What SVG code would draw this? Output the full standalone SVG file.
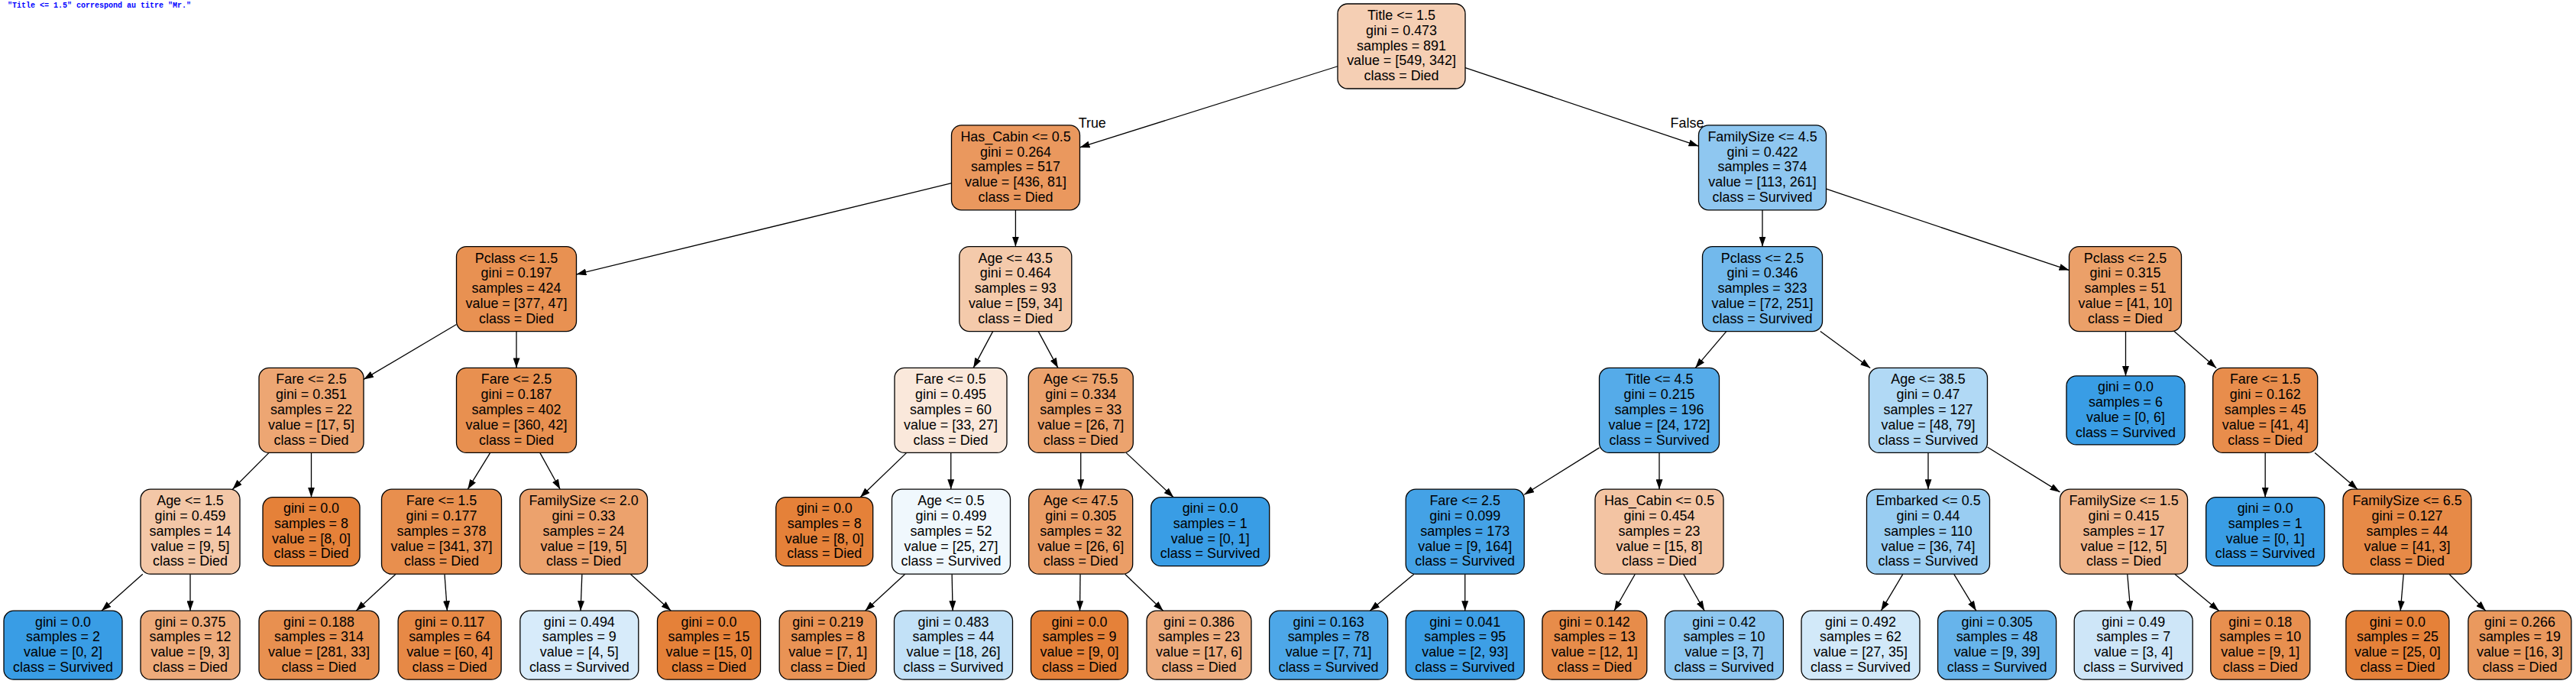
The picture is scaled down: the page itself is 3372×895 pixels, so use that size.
<svg xmlns="http://www.w3.org/2000/svg" width="3372" height="895" viewBox="0 0 3372 895">
<style>
.n{stroke:#000;stroke-width:1.3}
.t{font-family:"Liberation Sans",Arial,Helvetica,sans-serif;font-size:17.9px;text-anchor:middle;fill:#000}
.l{font-family:"Liberation Sans",Arial,Helvetica,sans-serif;font-size:17.9px;fill:#000}
.e{stroke:#000;stroke-width:1.3;fill:none;marker-end:url(#ah)}
.note{font-family:"Liberation Mono","Courier New",monospace;font-size:10px;font-weight:bold;fill:#0000ff}
</style>
<defs>
<marker id="ah" markerUnits="userSpaceOnUse" markerWidth="13" markerHeight="9" viewBox="0 0 13 9" refX="13" refY="4.5" orient="auto"><path d="M0,0L13,4.5L0,9z" fill="#000"/></marker>
</defs>
<rect width="3372" height="895" fill="#fff"/>
<text class="note" x="10" y="9.5">"Title &lt;= 1.5" correspond au titre "Mr."</text>

<g id="edges">
<line class="e" x1="1751" y1="86.75" x2="1413.5" y2="192.9"/>
<line class="e" x1="1918" y1="88.56" x2="2223.5" y2="191.24"/>
<line class="e" x1="1245.5" y1="239.71" x2="754.5" y2="359.02"/>
<line class="e" x1="1329.4" y1="274.8" x2="1329.4" y2="322.6"/>
<line class="e" x1="2307" y1="274.8" x2="2307" y2="322.6"/>
<line class="e" x1="2390.5" y1="247.22" x2="2708.5" y2="353.53"/>
<line class="e" x1="597.5" y1="424.53" x2="476" y2="496.39"/>
<line class="e" x1="676" y1="433.6" x2="676" y2="481.4"/>
<line class="e" x1="1299.66" y1="433.6" x2="1274.14" y2="481.4"/>
<line class="e" x1="1359.18" y1="433.6" x2="1384.92" y2="481.4"/>
<line class="e" x1="2259.82" y1="433.6" x2="2219.18" y2="481.4"/>
<line class="e" x1="2382.84" y1="433.6" x2="2448.16" y2="481.4"/>
<line class="e" x1="2782.5" y1="433.6" x2="2782.5" y2="491.9"/>
<line class="e" x1="2846.03" y1="433.6" x2="2901.17" y2="481.4"/>
<line class="e" x1="352.1" y1="592.4" x2="304.4" y2="640.2"/>
<line class="e" x1="407.5" y1="592.4" x2="407.5" y2="650.7"/>
<line class="e" x1="641.75" y1="592.4" x2="612.25" y2="640.2"/>
<line class="e" x1="706.76" y1="592.4" x2="733.24" y2="640.2"/>
<line class="e" x1="1186.73" y1="592.4" x2="1126.05" y2="650.7"/>
<line class="e" x1="1244.75" y1="592.4" x2="1244.75" y2="640.2"/>
<line class="e" x1="1414.75" y1="592.4" x2="1414.75" y2="640.2"/>
<line class="e" x1="1474" y1="592.4" x2="1536.19" y2="650.7"/>
<line class="e" x1="2093.5" y1="585.92" x2="1995.2" y2="647.3"/>
<line class="e" x1="2172" y1="592.4" x2="2172" y2="640.2"/>
<line class="e" x1="2524" y1="592.4" x2="2524" y2="640.2"/>
<line class="e" x1="2601.5" y1="584.97" x2="2696.5" y2="643.9"/>
<line class="e" x1="2965.2" y1="592.4" x2="2965.2" y2="650.7"/>
<line class="e" x1="3030.14" y1="592.4" x2="3086.06" y2="640.2"/>
<line class="e" x1="186.78" y1="751.2" x2="132.95" y2="799.2"/>
<line class="e" x1="249" y1="751.2" x2="249" y2="799.2"/>
<line class="e" x1="518.02" y1="751.2" x2="466.13" y2="799.2"/>
<line class="e" x1="581.96" y1="751.2" x2="585.39" y2="799.2"/>
<line class="e" x1="761.87" y1="751.2" x2="760.03" y2="799.2"/>
<line class="e" x1="825.29" y1="751.2" x2="878.31" y2="799.2"/>
<line class="e" x1="1184.72" y1="751.2" x2="1132.57" y2="799.2"/>
<line class="e" x1="1246.12" y1="751.2" x2="1247.09" y2="799.2"/>
<line class="e" x1="1414.06" y1="751.2" x2="1413.52" y2="799.2"/>
<line class="e" x1="1472.55" y1="751.2" x2="1522.6" y2="799.2"/>
<line class="e" x1="1850.96" y1="751.2" x2="1793.22" y2="799.2"/>
<line class="e" x1="1917.7" y1="751.2" x2="1917.7" y2="799.2"/>
<line class="e" x1="2140.35" y1="751.2" x2="2112.96" y2="799.2"/>
<line class="e" x1="2203.73" y1="751.2" x2="2231.18" y2="799.2"/>
<line class="e" x1="2490.93" y1="751.2" x2="2462.32" y2="799.2"/>
<line class="e" x1="2557.67" y1="751.2" x2="2586.8" y2="799.2"/>
<line class="e" x1="2784.75" y1="751.2" x2="2788.85" y2="799.2"/>
<line class="e" x1="2846.82" y1="751.2" x2="2904.62" y2="799.2"/>
<line class="e" x1="3146.29" y1="751.2" x2="3142.22" y2="799.2"/>
<line class="e" x1="3206.08" y1="751.2" x2="3253.74" y2="799.2"/>
<text class="l" x="1411.7" y="166.5">True</text>
<text class="l" x="2186.6" y="166.5">False</text>
</g>

<g id="n0"><rect class="n" x="1751" y="5" width="167" height="111" rx="13" fill="#f5cfb4"/>
<text class="t" y="25.9"><tspan x="1834.5">Title &lt;= 1.5</tspan><tspan x="1834.5" dy="19.8">gini = 0.473</tspan><tspan x="1834.5" dy="19.8">samples = 891</tspan><tspan x="1834.5" dy="19.8">value = [549, 342]</tspan><tspan x="1834.5" dy="19.8">class = Died</tspan></text></g>

<g id="n1"><rect class="n" x="1245.5" y="163.8" width="168" height="111" rx="13" fill="#ea985e"/>
<text class="t" y="184.7"><tspan x="1329.5">Has_Cabin &lt;= 0.5</tspan><tspan x="1329.5" dy="19.8">gini = 0.264</tspan><tspan x="1329.5" dy="19.8">samples = 517</tspan><tspan x="1329.5" dy="19.8">value = [436, 81]</tspan><tspan x="1329.5" dy="19.8">class = Died</tspan></text></g>

<g id="n2"><rect class="n" x="2223.5" y="163.8" width="167" height="111" rx="13" fill="#8fc7f0"/>
<text class="t" y="184.7"><tspan x="2307">FamilySize &lt;= 4.5</tspan><tspan x="2307" dy="19.8">gini = 0.422</tspan><tspan x="2307" dy="19.8">samples = 374</tspan><tspan x="2307" dy="19.8">value = [113, 261]</tspan><tspan x="2307" dy="19.8">class = Survived</tspan></text></g>

<g id="n3"><rect class="n" x="597.5" y="322.6" width="157" height="111" rx="13" fill="#e89152"/>
<text class="t" y="343.5"><tspan x="676">Pclass &lt;= 1.5</tspan><tspan x="676" dy="19.8">gini = 0.197</tspan><tspan x="676" dy="19.8">samples = 424</tspan><tspan x="676" dy="19.8">value = [377, 47]</tspan><tspan x="676" dy="19.8">class = Died</tspan></text></g>

<g id="n4"><rect class="n" x="1255.8" y="322.6" width="147" height="111" rx="13" fill="#f4caab"/>
<text class="t" y="343.5"><tspan x="1329.3">Age &lt;= 43.5</tspan><tspan x="1329.3" dy="19.8">gini = 0.464</tspan><tspan x="1329.3" dy="19.8">samples = 93</tspan><tspan x="1329.3" dy="19.8">value = [59, 34]</tspan><tspan x="1329.3" dy="19.8">class = Died</tspan></text></g>

<g id="n5"><rect class="n" x="2228.5" y="322.6" width="157" height="111" rx="13" fill="#72b9ec"/>
<text class="t" y="343.5"><tspan x="2307">Pclass &lt;= 2.5</tspan><tspan x="2307" dy="19.8">gini = 0.346</tspan><tspan x="2307" dy="19.8">samples = 323</tspan><tspan x="2307" dy="19.8">value = [72, 251]</tspan><tspan x="2307" dy="19.8">class = Survived</tspan></text></g>

<g id="n6"><rect class="n" x="2708.5" y="322.6" width="147" height="111" rx="13" fill="#eba069"/>
<text class="t" y="343.5"><tspan x="2782">Pclass &lt;= 2.5</tspan><tspan x="2782" dy="19.8">gini = 0.315</tspan><tspan x="2782" dy="19.8">samples = 51</tspan><tspan x="2782" dy="19.8">value = [41, 10]</tspan><tspan x="2782" dy="19.8">class = Died</tspan></text></g>

<g id="n7"><rect class="n" x="339" y="481.4" width="137" height="111" rx="13" fill="#eda673"/>
<text class="t" y="502.3"><tspan x="407.5">Fare &lt;= 2.5</tspan><tspan x="407.5" dy="19.8">gini = 0.351</tspan><tspan x="407.5" dy="19.8">samples = 22</tspan><tspan x="407.5" dy="19.8">value = [17, 5]</tspan><tspan x="407.5" dy="19.8">class = Died</tspan></text></g>

<g id="n8"><rect class="n" x="597.5" y="481.4" width="157" height="111" rx="13" fill="#e89050"/>
<text class="t" y="502.3"><tspan x="676">Fare &lt;= 2.5</tspan><tspan x="676" dy="19.8">gini = 0.187</tspan><tspan x="676" dy="19.8">samples = 402</tspan><tspan x="676" dy="19.8">value = [360, 42]</tspan><tspan x="676" dy="19.8">class = Died</tspan></text></g>

<g id="n9"><rect class="n" x="1171" y="481.4" width="147" height="111" rx="13" fill="#fae8db"/>
<text class="t" y="502.3"><tspan x="1244.5">Fare &lt;= 0.5</tspan><tspan x="1244.5" dy="19.8">gini = 0.495</tspan><tspan x="1244.5" dy="19.8">samples = 60</tspan><tspan x="1244.5" dy="19.8">value = [33, 27]</tspan><tspan x="1244.5" dy="19.8">class = Died</tspan></text></g>

<g id="n10"><rect class="n" x="1346.3" y="481.4" width="137" height="111" rx="13" fill="#eca36e"/>
<text class="t" y="502.3"><tspan x="1414.8">Age &lt;= 75.5</tspan><tspan x="1414.8" dy="19.8">gini = 0.334</tspan><tspan x="1414.8" dy="19.8">samples = 33</tspan><tspan x="1414.8" dy="19.8">value = [26, 7]</tspan><tspan x="1414.8" dy="19.8">class = Died</tspan></text></g>

<g id="n11"><rect class="n" x="2093.5" y="481.4" width="157" height="111" rx="13" fill="#55abe9"/>
<text class="t" y="502.3"><tspan x="2172">Title &lt;= 4.5</tspan><tspan x="2172" dy="19.8">gini = 0.215</tspan><tspan x="2172" dy="19.8">samples = 196</tspan><tspan x="2172" dy="19.8">value = [24, 172]</tspan><tspan x="2172" dy="19.8">class = Survived</tspan></text></g>

<g id="n12"><rect class="n" x="2446.5" y="481.4" width="155" height="111" rx="13" fill="#b1d9f5"/>
<text class="t" y="502.3"><tspan x="2524">Age &lt;= 38.5</tspan><tspan x="2524" dy="19.8">gini = 0.47</tspan><tspan x="2524" dy="19.8">samples = 127</tspan><tspan x="2524" dy="19.8">value = [48, 79]</tspan><tspan x="2524" dy="19.8">class = Survived</tspan></text></g>

<g id="n13"><rect class="n" x="2705" y="491.9" width="155" height="90" rx="13" fill="#399de5"/>
<text class="t" y="512.2"><tspan x="2782.5">gini = 0.0</tspan><tspan x="2782.5" dy="19.8">samples = 6</tspan><tspan x="2782.5" dy="19.8">value = [0, 6]</tspan><tspan x="2782.5" dy="19.8">class = Survived</tspan></text></g>

<g id="n14"><rect class="n" x="2896.7" y="481.4" width="137" height="111" rx="13" fill="#e88d4c"/>
<text class="t" y="502.3"><tspan x="2965.2">Fare &lt;= 1.5</tspan><tspan x="2965.2" dy="19.8">gini = 0.162</tspan><tspan x="2965.2" dy="19.8">samples = 45</tspan><tspan x="2965.2" dy="19.8">value = [41, 4]</tspan><tspan x="2965.2" dy="19.8">class = Died</tspan></text></g>

<g id="n15"><rect class="n" x="184" y="640.2" width="130" height="111" rx="13" fill="#f3c7a7"/>
<text class="t" y="661.1"><tspan x="249">Age &lt;= 1.5</tspan><tspan x="249" dy="19.8">gini = 0.459</tspan><tspan x="249" dy="19.8">samples = 14</tspan><tspan x="249" dy="19.8">value = [9, 5]</tspan><tspan x="249" dy="19.8">class = Died</tspan></text></g>

<g id="n16"><rect class="n" x="344" y="650.7" width="127" height="90" rx="13" fill="#e58139"/>
<text class="t" y="671"><tspan x="407.5">gini = 0.0</tspan><tspan x="407.5" dy="19.8">samples = 8</tspan><tspan x="407.5" dy="19.8">value = [8, 0]</tspan><tspan x="407.5" dy="19.8">class = Died</tspan></text></g>

<g id="n17"><rect class="n" x="499.5" y="640.2" width="157" height="111" rx="13" fill="#e88f4e"/>
<text class="t" y="661.1"><tspan x="578">Fare &lt;= 1.5</tspan><tspan x="578" dy="19.8">gini = 0.177</tspan><tspan x="578" dy="19.8">samples = 378</tspan><tspan x="578" dy="19.8">value = [341, 37]</tspan><tspan x="578" dy="19.8">class = Died</tspan></text></g>

<g id="n18"><rect class="n" x="680.5" y="640.2" width="167" height="111" rx="13" fill="#eca26d"/>
<text class="t" y="661.1"><tspan x="764">FamilySize &lt;= 2.0</tspan><tspan x="764" dy="19.8">gini = 0.33</tspan><tspan x="764" dy="19.8">samples = 24</tspan><tspan x="764" dy="19.8">value = [19, 5]</tspan><tspan x="764" dy="19.8">class = Died</tspan></text></g>

<g id="n19"><rect class="n" x="1015.7" y="650.7" width="127" height="90" rx="13" fill="#e58139"/>
<text class="t" y="671"><tspan x="1079.2">gini = 0.0</tspan><tspan x="1079.2" dy="19.8">samples = 8</tspan><tspan x="1079.2" dy="19.8">value = [8, 0]</tspan><tspan x="1079.2" dy="19.8">class = Died</tspan></text></g>

<g id="n20"><rect class="n" x="1167.5" y="640.2" width="155" height="111" rx="13" fill="#f0f8fd"/>
<text class="t" y="661.1"><tspan x="1245">Age &lt;= 0.5</tspan><tspan x="1245" dy="19.8">gini = 0.499</tspan><tspan x="1245" dy="19.8">samples = 52</tspan><tspan x="1245" dy="19.8">value = [25, 27]</tspan><tspan x="1245" dy="19.8">class = Survived</tspan></text></g>

<g id="n21"><rect class="n" x="1346.7" y="640.2" width="136" height="111" rx="13" fill="#eb9e67"/>
<text class="t" y="661.1"><tspan x="1414.7">Age &lt;= 47.5</tspan><tspan x="1414.7" dy="19.8">gini = 0.305</tspan><tspan x="1414.7" dy="19.8">samples = 32</tspan><tspan x="1414.7" dy="19.8">value = [26, 6]</tspan><tspan x="1414.7" dy="19.8">class = Died</tspan></text></g>

<g id="n22"><rect class="n" x="1506.7" y="650.7" width="155" height="90" rx="13" fill="#399de5"/>
<text class="t" y="671"><tspan x="1584.2">gini = 0.0</tspan><tspan x="1584.2" dy="19.8">samples = 1</tspan><tspan x="1584.2" dy="19.8">value = [0, 1]</tspan><tspan x="1584.2" dy="19.8">class = Survived</tspan></text></g>

<g id="n23"><rect class="n" x="1840.2" y="640.2" width="155" height="111" rx="13" fill="#44a2e6"/>
<text class="t" y="661.1"><tspan x="1917.7">Fare &lt;= 2.5</tspan><tspan x="1917.7" dy="19.8">gini = 0.099</tspan><tspan x="1917.7" dy="19.8">samples = 173</tspan><tspan x="1917.7" dy="19.8">value = [9, 164]</tspan><tspan x="1917.7" dy="19.8">class = Survived</tspan></text></g>

<g id="n24"><rect class="n" x="2088" y="640.2" width="168" height="111" rx="13" fill="#f3c4a3"/>
<text class="t" y="661.1"><tspan x="2172">Has_Cabin &lt;= 0.5</tspan><tspan x="2172" dy="19.8">gini = 0.454</tspan><tspan x="2172" dy="19.8">samples = 23</tspan><tspan x="2172" dy="19.8">value = [15, 8]</tspan><tspan x="2172" dy="19.8">class = Died</tspan></text></g>

<g id="n25"><rect class="n" x="2443.5" y="640.2" width="161" height="111" rx="13" fill="#99cdf2"/>
<text class="t" y="661.1"><tspan x="2524">Embarked &lt;= 0.5</tspan><tspan x="2524" dy="19.8">gini = 0.44</tspan><tspan x="2524" dy="19.8">samples = 110</tspan><tspan x="2524" dy="19.8">value = [36, 74]</tspan><tspan x="2524" dy="19.8">class = Survived</tspan></text></g>

<g id="n26"><rect class="n" x="2696.5" y="640.2" width="167" height="111" rx="13" fill="#f0b68c"/>
<text class="t" y="661.1"><tspan x="2780">FamilySize &lt;= 1.5</tspan><tspan x="2780" dy="19.8">gini = 0.415</tspan><tspan x="2780" dy="19.8">samples = 17</tspan><tspan x="2780" dy="19.8">value = [12, 5]</tspan><tspan x="2780" dy="19.8">class = Died</tspan></text></g>

<g id="n27"><rect class="n" x="2887.7" y="650.7" width="155" height="90" rx="13" fill="#399de5"/>
<text class="t" y="671"><tspan x="2965.2">gini = 0.0</tspan><tspan x="2965.2" dy="19.8">samples = 1</tspan><tspan x="2965.2" dy="19.8">value = [0, 1]</tspan><tspan x="2965.2" dy="19.8">class = Survived</tspan></text></g>

<g id="n28"><rect class="n" x="3067" y="640.2" width="168" height="111" rx="13" fill="#e78a47"/>
<text class="t" y="661.1"><tspan x="3151">FamilySize &lt;= 6.5</tspan><tspan x="3151" dy="19.8">gini = 0.127</tspan><tspan x="3151" dy="19.8">samples = 44</tspan><tspan x="3151" dy="19.8">value = [41, 3]</tspan><tspan x="3151" dy="19.8">class = Died</tspan></text></g>

<g id="n29"><rect class="n" x="5" y="799.2" width="155" height="90" rx="13" fill="#399de5"/>
<text class="t" y="819.5"><tspan x="82.5">gini = 0.0</tspan><tspan x="82.5" dy="19.8">samples = 2</tspan><tspan x="82.5" dy="19.8">value = [0, 2]</tspan><tspan x="82.5" dy="19.8">class = Survived</tspan></text></g>

<g id="n30"><rect class="n" x="184" y="799.2" width="130" height="90" rx="13" fill="#eeab7b"/>
<text class="t" y="819.5"><tspan x="249">gini = 0.375</tspan><tspan x="249" dy="19.8">samples = 12</tspan><tspan x="249" dy="19.8">value = [9, 3]</tspan><tspan x="249" dy="19.8">class = Died</tspan></text></g>

<g id="n31"><rect class="n" x="339" y="799.2" width="157" height="90" rx="13" fill="#e89050"/>
<text class="t" y="819.5"><tspan x="417.5">gini = 0.188</tspan><tspan x="417.5" dy="19.8">samples = 314</tspan><tspan x="417.5" dy="19.8">value = [281, 33]</tspan><tspan x="417.5" dy="19.8">class = Died</tspan></text></g>

<g id="n32"><rect class="n" x="521.1" y="799.2" width="135" height="90" rx="13" fill="#e78946"/>
<text class="t" y="819.5"><tspan x="588.6">gini = 0.117</tspan><tspan x="588.6" dy="19.8">samples = 64</tspan><tspan x="588.6" dy="19.8">value = [60, 4]</tspan><tspan x="588.6" dy="19.8">class = Died</tspan></text></g>

<g id="n33"><rect class="n" x="680.8" y="799.2" width="155" height="90" rx="13" fill="#d7ebfa"/>
<text class="t" y="819.5"><tspan x="758.3">gini = 0.494</tspan><tspan x="758.3" dy="19.8">samples = 9</tspan><tspan x="758.3" dy="19.8">value = [4, 5]</tspan><tspan x="758.3" dy="19.8">class = Survived</tspan></text></g>

<g id="n34"><rect class="n" x="860.5" y="799.2" width="135" height="90" rx="13" fill="#e58139"/>
<text class="t" y="819.5"><tspan x="928">gini = 0.0</tspan><tspan x="928" dy="19.8">samples = 15</tspan><tspan x="928" dy="19.8">value = [15, 0]</tspan><tspan x="928" dy="19.8">class = Died</tspan></text></g>

<g id="n35"><rect class="n" x="1020.2" y="799.2" width="127" height="90" rx="13" fill="#e99355"/>
<text class="t" y="819.5"><tspan x="1083.7">gini = 0.219</tspan><tspan x="1083.7" dy="19.8">samples = 8</tspan><tspan x="1083.7" dy="19.8">value = [7, 1]</tspan><tspan x="1083.7" dy="19.8">class = Died</tspan></text></g>

<g id="n36"><rect class="n" x="1170.5" y="799.2" width="155" height="90" rx="13" fill="#c2e1f7"/>
<text class="t" y="819.5"><tspan x="1248">gini = 0.483</tspan><tspan x="1248" dy="19.8">samples = 44</tspan><tspan x="1248" dy="19.8">value = [18, 26]</tspan><tspan x="1248" dy="19.8">class = Survived</tspan></text></g>

<g id="n37"><rect class="n" x="1349.5" y="799.2" width="127" height="90" rx="13" fill="#e58139"/>
<text class="t" y="819.5"><tspan x="1413">gini = 0.0</tspan><tspan x="1413" dy="19.8">samples = 9</tspan><tspan x="1413" dy="19.8">value = [9, 0]</tspan><tspan x="1413" dy="19.8">class = Died</tspan></text></g>

<g id="n38"><rect class="n" x="1501" y="799.2" width="137" height="90" rx="13" fill="#eead7f"/>
<text class="t" y="819.5"><tspan x="1569.5">gini = 0.386</tspan><tspan x="1569.5" dy="19.8">samples = 23</tspan><tspan x="1569.5" dy="19.8">value = [17, 6]</tspan><tspan x="1569.5" dy="19.8">class = Died</tspan></text></g>

<g id="n39"><rect class="n" x="1661.6" y="799.2" width="155" height="90" rx="13" fill="#4da7e8"/>
<text class="t" y="819.5"><tspan x="1739.1">gini = 0.163</tspan><tspan x="1739.1" dy="19.8">samples = 78</tspan><tspan x="1739.1" dy="19.8">value = [7, 71]</tspan><tspan x="1739.1" dy="19.8">class = Survived</tspan></text></g>

<g id="n40"><rect class="n" x="1840.2" y="799.2" width="155" height="90" rx="13" fill="#3d9fe6"/>
<text class="t" y="819.5"><tspan x="1917.7">gini = 0.041</tspan><tspan x="1917.7" dy="19.8">samples = 95</tspan><tspan x="1917.7" dy="19.8">value = [2, 93]</tspan><tspan x="1917.7" dy="19.8">class = Survived</tspan></text></g>

<g id="n41"><rect class="n" x="2018.8" y="799.2" width="137" height="90" rx="13" fill="#e78c4a"/>
<text class="t" y="819.5"><tspan x="2087.3">gini = 0.142</tspan><tspan x="2087.3" dy="19.8">samples = 13</tspan><tspan x="2087.3" dy="19.8">value = [12, 1]</tspan><tspan x="2087.3" dy="19.8">class = Died</tspan></text></g>

<g id="n42"><rect class="n" x="2179.4" y="799.2" width="155" height="90" rx="13" fill="#8ec7f0"/>
<text class="t" y="819.5"><tspan x="2256.9">gini = 0.42</tspan><tspan x="2256.9" dy="19.8">samples = 10</tspan><tspan x="2256.9" dy="19.8">value = [3, 7]</tspan><tspan x="2256.9" dy="19.8">class = Survived</tspan></text></g>

<g id="n43"><rect class="n" x="2358" y="799.2" width="155" height="90" rx="13" fill="#d2e9f9"/>
<text class="t" y="819.5"><tspan x="2435.5">gini = 0.492</tspan><tspan x="2435.5" dy="19.8">samples = 62</tspan><tspan x="2435.5" dy="19.8">value = [27, 35]</tspan><tspan x="2435.5" dy="19.8">class = Survived</tspan></text></g>

<g id="n44"><rect class="n" x="2536.6" y="799.2" width="155" height="90" rx="13" fill="#67b4eb"/>
<text class="t" y="819.5"><tspan x="2614.1">gini = 0.305</tspan><tspan x="2614.1" dy="19.8">samples = 48</tspan><tspan x="2614.1" dy="19.8">value = [9, 39]</tspan><tspan x="2614.1" dy="19.8">class = Survived</tspan></text></g>

<g id="n45"><rect class="n" x="2715.2" y="799.2" width="155" height="90" rx="13" fill="#cee6f8"/>
<text class="t" y="819.5"><tspan x="2792.7">gini = 0.49</tspan><tspan x="2792.7" dy="19.8">samples = 7</tspan><tspan x="2792.7" dy="19.8">value = [3, 4]</tspan><tspan x="2792.7" dy="19.8">class = Survived</tspan></text></g>

<g id="n46"><rect class="n" x="2893.8" y="799.2" width="130" height="90" rx="13" fill="#e88f4f"/>
<text class="t" y="819.5"><tspan x="2958.8">gini = 0.18</tspan><tspan x="2958.8" dy="19.8">samples = 10</tspan><tspan x="2958.8" dy="19.8">value = [9, 1]</tspan><tspan x="2958.8" dy="19.8">class = Died</tspan></text></g>

<g id="n47"><rect class="n" x="3070.9" y="799.2" width="135" height="90" rx="13" fill="#e58139"/>
<text class="t" y="819.5"><tspan x="3138.4">gini = 0.0</tspan><tspan x="3138.4" dy="19.8">samples = 25</tspan><tspan x="3138.4" dy="19.8">value = [25, 0]</tspan><tspan x="3138.4" dy="19.8">class = Died</tspan></text></g>

<g id="n48"><rect class="n" x="3230.9" y="799.2" width="135" height="90" rx="13" fill="#ea995e"/>
<text class="t" y="819.5"><tspan x="3298.4">gini = 0.266</tspan><tspan x="3298.4" dy="19.8">samples = 19</tspan><tspan x="3298.4" dy="19.8">value = [16, 3]</tspan><tspan x="3298.4" dy="19.8">class = Died</tspan></text></g>
</svg>
